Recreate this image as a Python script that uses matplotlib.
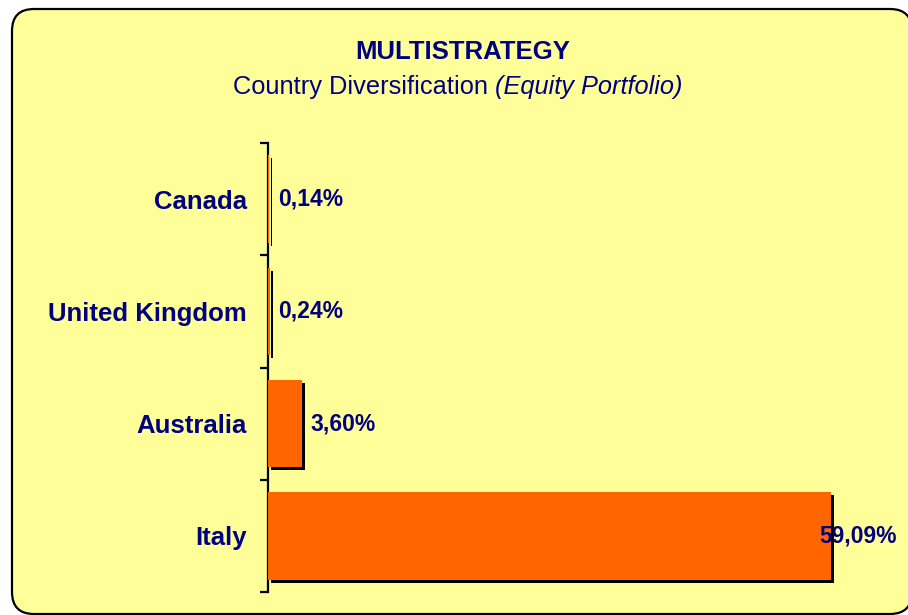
import matplotlib.pyplot as plt
from matplotlib.patches import FancyBboxPatch
from matplotlib.transforms import IdentityTransform
import matplotlib.patheffects as pe

countries = ['Canada', 'United Kingdom', 'Australia', 'Italy']
weights = [0.14, 0.24, 3.60, 59.09]
value_labels = ['0,14%', '0,24%', '3,60%', '59,09%']

navy = '#000080'
orange = '#FF6600'
yellow = '#FFFF99'
plt.rcParams['font.family'] = ['Liberation Sans', 'DejaVu Sans']

W, H = 908, 615
fig = plt.figure(figsize=(W / 100, H / 100), dpi=100)
fig.patch.set_facecolor('white')

# rounded yellow frame (pixel coords)
frame = FancyBboxPatch((12, 1), 900, H - 10,
                       boxstyle='round,pad=0,rounding_size=22',
                       transform=IdentityTransform(), facecolor=yellow,
                       edgecolor='black', linewidth=1.6, zorder=-5)
fig.patches.append(frame)

ax = fig.add_axes([268 / W, 23 / H, 622 / W, 449 / H])
ax.set_facecolor('none')

ypos = list(range(len(countries)))
bars = ax.barh(ypos, weights, height=0.78, color=orange, edgecolor='none', zorder=3)
for b in bars:
    b.set_path_effects([pe.SimplePatchShadow(offset=(2.2, -2.2), shadow_rgbFace='black', alpha=1.0),
                        pe.Normal()])

ax.set_ylim(len(countries) - 0.5, -0.5)
ax.set_xlim(0, 65.3)

for s in ['top', 'right', 'bottom']:
    ax.spines[s].set_visible(False)
ax.spines['left'].set_linewidth(1.6)
ax.set_xticks([])

ax.set_yticks(ypos)
ax.set_yticklabels(countries, fontsize=18.5, fontweight='bold', color=navy)
ax.tick_params(axis='y', which='major', length=0, pad=15)
ax.set_yticks([i - 0.5 for i in range(len(countries) + 1)], minor=True)
ax.tick_params(axis='y', which='minor', length=6, width=1.6, color='black')

labels = []
for y, v, t in zip(ypos, weights, value_labels):
    labels.append(ax.annotate(t, xy=(v, y), xytext=(6, 0), textcoords='offset points',
                              ha='left', va='center', fontsize=16.5,
                              fontweight='bold', color=navy, zorder=5))

fig.text(463 / W, 1 - 52 / H, 'MULTISTRATEGY', ha='center', va='center',
         fontsize=18.5, fontweight='bold', color=navy)
t1 = fig.text(0, 1 - 87 / H, 'Country Diversification ', ha='left', va='center',
              fontsize=18.3, color=navy)
t2 = fig.text(0, 1 - 87 / H, '(Equity Portfolio)', ha='left', va='center',
              fontsize=18.3, color=navy, style='italic')

fig.canvas.draw()
r = fig.canvas.get_renderer()
w1 = t1.get_window_extent(r).width
w2 = t2.get_window_extent(r).width
x0 = 458 - (w1 + w2) / 2
t1.set_x(x0 / W)
t2.set_x((x0 + w1) / W)

# keep value labels inside the frame (pull the long one back over its bar)
for lab in labels:
    ext = lab.get_window_extent(r)
    if ext.x1 > W - 11:
        shift = (ext.x1 - (W - 11)) * 72 / 100
        lab.xyann = (6 - shift, 0)

fig.savefig('out.png', dpi=100, facecolor='white')
